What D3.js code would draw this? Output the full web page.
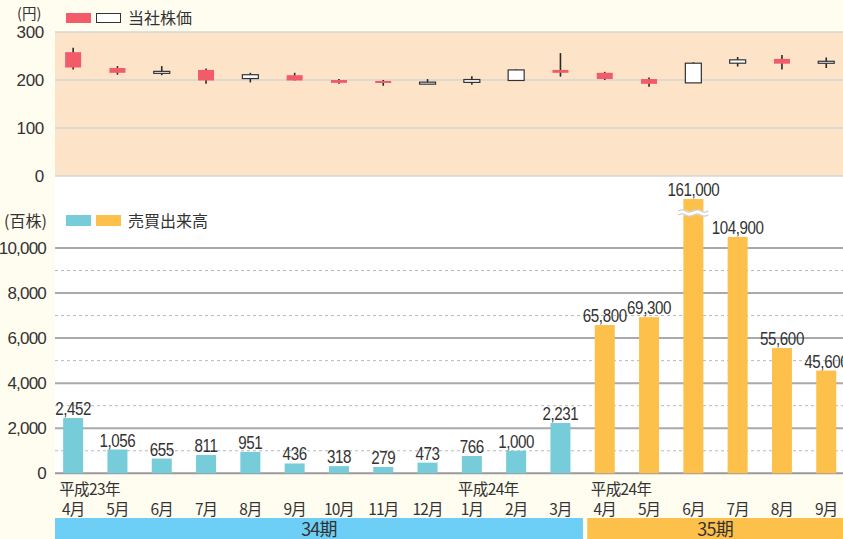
<!DOCTYPE html>
<html><head><meta charset="utf-8">
<script src="https://cdn.jsdelivr.net/npm/d3@7"></script>
<style>
body{margin:0;padding:0;background:#fffcf0;}
svg{display:block;font-family:"Liberation Sans","Noto Sans CJK JP",sans-serif;}
</style></head>
<body>
<svg id="c" width="843" height="539"></svg>
<script>
// ---- data ----
const months = ["4月","5月","6月","7月","8月","9月","10月","11月","12月","1月","2月","3月","4月","5月","6月","7月","8月","9月"];
const yearLabels = [{i:0,t:"平成23年"},{i:9,t:"平成24年"},{i:12,t:"平成24年"}];
const periods = [{name:"34期",from:0,to:11},{name:"35期",from:12,to:17}];
const priceOpen  = [258,225,215,221,203,210,200,198,193.5,195,199,221,215,202,194,235,244,235];
const priceHigh  = [267,229,229,224,215,215,202,200,202,208,222,256,217,205,237,248,252,247];
const priceLow   = [222,211,210,192,195,199,192,188,193,190,198,207,200,186,194,228,222,225];
const priceClose = [226,215,218,199,211,199,194,194,195.5,201,221,215,202,192,235,242,234,239];
const volume34 = [2452,1056,655,811,951,436,318,279,473,766,1000,2231];
const volume35 = [65800,69300,161000,104900,55600,45600];
const splitRatio35 = 10;   // 35期 volumes plotted at 1/10 scale in the original
const priceTicks = [0,100,200,300];
const volTicks = [0,2000,4000,6000,8000,10000];
const volMinorTicks = [1000,3000,5000,7000,9000];

// ---- setup ----
const svg = d3.select("#c");
const RED="#f15b6a", BLUE="#76ccd8", ORANGE="#fdc04b", BAND_BLUE="#6dcff5", TXT="#333";
const JP = "'Noto Sans CJK JP','Liberation Sans',sans-serif";

const x = d3.scaleBand().domain(d3.range(months.length)).range([51, 848.4]).paddingInner(0.55).paddingOuter(0.275);
const cx = i => x(i) + x.bandwidth()/2;
const yP = d3.scaleLinear().domain([0,300]).range([176,32]);
const yV = d3.scaleLinear().domain([0,10000]).range([473.3,248]);

// backgrounds
svg.append("rect").attr("x",0).attr("y",0).attr("width",843).attr("height",539).attr("fill","#fffcf0");
svg.append("rect").attr("x",55).attr("y",yP(300)).attr("width",788).attr("height",yP(0)-yP(300)).attr("fill","#fde4c9");
svg.append("rect").attr("x",55).attr("y",yP(0)).attr("width",788).attr("height",yV(0)-yP(0)).attr("fill","#ffffff");

// price gridlines
svg.append("g").selectAll("line").data(priceTicks).join("line")
  .attr("x1",55).attr("x2",843).attr("y1",d=>yP(d)).attr("y2",d=>yP(d))
  .attr("stroke","#d3d7d3").attr("stroke-width",1.6);

// price axis labels
const pa = svg.append("g").attr("transform","translate(44,0)")
  .call(d3.axisLeft(yP).tickValues(priceTicks).tickSize(0).tickPadding(0));
pa.select(".domain").remove();
pa.selectAll("text").attr("font-size",17).attr("fill",TXT).attr("font-family","'Liberation Sans',sans-serif").attr("letter-spacing","-0.3");

// volume gridlines
svg.append("g").selectAll("line").data(volMinorTicks).join("line")
  .attr("x1",55).attr("x2",843).attr("y1",d=>yV(d)).attr("y2",d=>yV(d))
  .attr("stroke","#b9b9bd").attr("stroke-width",1).attr("stroke-dasharray","3,3");
svg.append("g").selectAll("line").data(volTicks).join("line")
  .attr("x1",55).attr("x2",843).attr("y1",d=>yV(d)).attr("y2",d=>yV(d))
  .attr("stroke",d=>d===0?"#9a9a9e":"#a9a9ae").attr("stroke-width",2);

const va = svg.append("g").attr("transform","translate(46,0)")
  .call(d3.axisLeft(yV).tickValues(volTicks).tickSize(0).tickPadding(0).tickFormat(d3.format(",")));
va.select(".domain").remove();
va.selectAll("text").attr("font-size",17).attr("fill",TXT).attr("font-family","'Liberation Sans',sans-serif").attr("letter-spacing","-0.8");

// candles
const candles = months.map((m,i)=>({i,o:priceOpen[i],h:priceHigh[i],l:priceLow[i],c:priceClose[i]}));
const cg = svg.append("g");
cg.selectAll("line.w").data(candles).join("line")
  .attr("x1",d=>cx(d.i)).attr("x2",d=>cx(d.i))
  .attr("y1",d=>yP(d.h)).attr("y2",d=>yP(d.l))
  .attr("stroke","#2a2a2a").attr("stroke-width",1.6);
const cw = 16;
cg.selectAll("rect.b").data(candles).join("rect")
  .attr("x",d=>cx(d.i)-cw/2).attr("width",cw)
  .attr("y",d=>yP(Math.max(d.o,d.c)))
  .attr("height",d=>Math.max(2,Math.abs(yP(d.o)-yP(d.c))))
  .attr("fill",d=>d.c<d.o?RED:"#ffffff")
  .attr("stroke",d=>d.c<d.o?"none":"#333")
  .attr("stroke-width",1.2);

// volume bars
const vols = volume34.map((v,i)=>({i,v,plot:v,col:BLUE}))
  .concat(volume35.map((v,j)=>({i:12+j,v,plot:v/splitRatio35,col:ORANGE})));
const capVal = yV.invert(199);
const bw = 20;
svg.append("g").selectAll("rect").data(vols).join("rect")
  .attr("x",d=>cx(d.i)-bw/2).attr("width",bw)
  .attr("y",d=>yV(Math.min(d.plot,capVal)))
  .attr("height",d=>yV(0)-yV(Math.min(d.plot,capVal)))
  .attr("fill",d=>d.col);

// break mark on capped bar
vols.filter(d=>d.plot>capVal).forEach(d=>{
  const x0 = cx(d.i)-bw/2-5, x1 = cx(d.i)+bw/2+5, yb = 211;
  const wave = (yy)=>{
    const p = d3.path(); p.moveTo(x0,yy);
    const seg=(x1-x0)/2;
    p.bezierCurveTo(x0+seg*0.5,yy-4,x0+seg*0.5,yy+4,x0+seg,yy);
    p.bezierCurveTo(x0+seg*1.5,yy-4,x0+seg*1.5,yy+4,x1,yy);
    return p.toString();
  };
  svg.append("path").attr("d",wave(yb+2)).attr("fill","none").attr("stroke","#fff").attr("stroke-width",5);
  svg.append("path").attr("d",wave(yb)).attr("fill","none").attr("stroke","#b0b0b0").attr("stroke-width",0.8);
  svg.append("path").attr("d",wave(yb+4)).attr("fill","none").attr("stroke","#b0b0b0").attr("stroke-width",0.8);
});

// value labels
const fmt = d3.format(",");
svg.append("g").selectAll("text").data(vols).join("text")
  .attr("transform",d=>`translate(${cx(d.i)},${yV(Math.min(d.plot,capVal))-3}) scale(0.82,1)`)
  .attr("text-anchor","middle").attr("font-size",18.5).attr("fill",TXT)
  .attr("letter-spacing","-0.5")
  .attr("font-family","'Liberation Sans',sans-serif")
  .text(d=>fmt(d.v));

// month labels
svg.append("g").selectAll("text").data(months).join("text")
  .attr("x",(d,i)=>cx(i)).attr("y",515).attr("text-anchor","middle")
  .attr("font-size",15.5).attr("fill",TXT).attr("letter-spacing","-0.9")
  .attr("font-family",JP).text(d=>d);
svg.append("g").selectAll("text").data(yearLabels).join("text")
  .attr("x",d=>cx(d.i)-14).attr("y",494.5)
  .attr("font-size",15.5).attr("fill",TXT).attr("letter-spacing","-0.6")
  .attr("font-family",JP).text(d=>d.t);

// period bands
const pg = svg.append("g");
periods.forEach((p,k)=>{
  const xa = k===0 ? 55 : x(p.from)-9.5+2;
  const xb = k===0 ? x(p.to)+x.bandwidth()+12.5 : 843;
  pg.append("rect").attr("x",xa).attr("y",518).attr("width",xb-xa).attr("height",21)
    .attr("fill",k===0?BAND_BLUE:ORANGE);
  pg.append("text").attr("x",(xa+xb)/2).attr("y",535.5).attr("text-anchor","middle")
    .attr("font-size",18).attr("fill",TXT).attr("font-family",JP).attr("letter-spacing","-0.8").text(p.name);
});

// legends & units
svg.append("text").attr("x",17).attr("y",19).attr("font-size",14.5).attr("fill",TXT).attr("font-family",JP).text("(円)");
svg.append("rect").attr("x",66).attr("y",13).attr("width",25).attr("height",10).attr("fill",RED);
svg.append("rect").attr("x",96.5).attr("y",13.5).attr("width",24).attr("height",9).attr("fill","#fff").attr("stroke","#333").attr("stroke-width",1);
svg.append("text").attr("x",128).attr("y",24).attr("font-size",16).attr("fill",TXT).attr("font-family",JP).text("当社株価");

svg.append("text").attr("x",4).attr("y",227).attr("font-size",16).attr("fill",TXT).attr("font-family",JP).text("(百株)");
svg.append("rect").attr("x",66).attr("y",215).attr("width",25).attr("height",11).attr("fill",BLUE);
svg.append("rect").attr("x",96).attr("y",215).attr("width",25).attr("height",11).attr("fill",ORANGE);
svg.append("text").attr("x",128).attr("y",227).attr("font-size",16).attr("fill",TXT).attr("font-family",JP).text("売買出来高");
</script>
</body></html>
